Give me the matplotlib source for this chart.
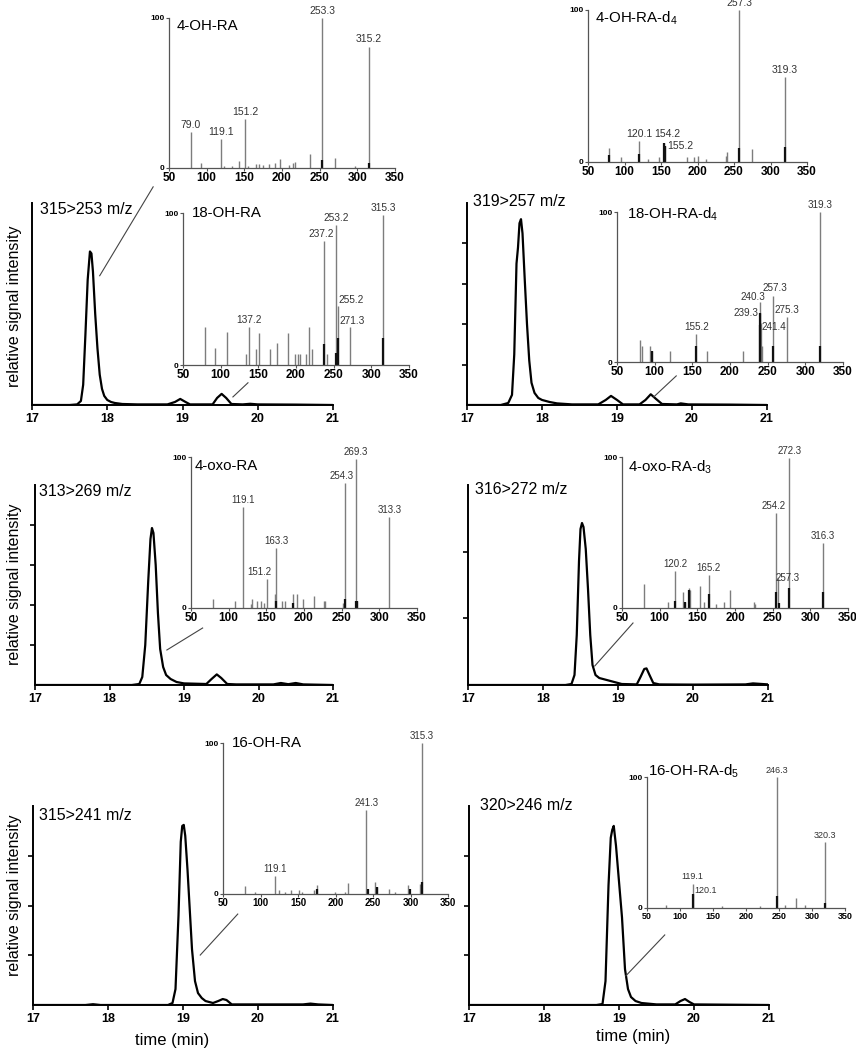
import matplotlib
matplotlib.use('Agg')
import matplotlib.pyplot as plt

plt.rcParams['font.family'] = ['Liberation Sans', 'DejaVu Sans']
plt.rcParams['mathtext.fontset'] = 'custom'
plt.rcParams['mathtext.rm'] = 'Liberation Sans'

W, H = 856, 1050

# ---- chromatograms: time (min) / intensity (% of axis height) ----
t1 = [17.0, 17.5, 17.6, 17.65, 17.68, 17.71, 17.74, 17.77, 17.79, 17.81, 17.84, 17.87, 17.9, 17.93,
      17.96, 18.0, 18.05, 18.1, 18.2, 18.4, 18.8, 18.9, 18.97, 19.04, 19.1, 19.4, 19.46, 19.52, 19.58,
      19.65, 19.8, 19.9, 20.0, 20.5, 21.0]
i1 = [0, 0, 0.3, 2, 10, 35, 62, 76, 75, 66, 45, 28, 15, 8, 4.5, 2.5, 1.5, 1.0, 0.5, 0.3, 0.3, 1.5, 3.0,
      1.5, 0.3, 0.3, 3.5, 5.5, 3.5, 0.5, 0.3, 0.6, 0.3, 0.2, 0]

t2 = [17.0, 17.45, 17.55, 17.6, 17.63, 17.66, 17.68, 17.7, 17.72, 17.74, 17.77, 17.8, 17.83, 17.86,
      17.9, 17.95, 18.0, 18.1, 18.2, 18.4, 18.75, 18.85, 18.92, 19.0, 19.08, 19.3, 19.38, 19.45, 19.52,
      19.6, 19.8, 19.85, 19.95, 20.5, 21.0]
i2 = [0, 0, 1, 5, 25, 70, 78, 90, 92, 85, 62, 40, 22, 11, 6, 3.5, 2.5, 1.5, 0.8, 0.3, 0.3, 2.5, 4.5,
      2.5, 0.3, 0.3, 2.5, 5.3, 3, 0.5, 0.3, 0.8, 0.3, 0.2, 0]

t3 = [17.0, 18.3, 18.4, 18.44, 18.48, 18.52, 18.55, 18.57, 18.59, 18.62, 18.65, 18.68, 18.72, 18.76,
      18.82, 18.9, 19.0, 19.3, 19.37, 19.44, 19.5, 19.58, 19.7, 20.2, 20.3, 20.4, 20.5, 20.6, 21.0]
i3 = [0, 0, 0.5, 4, 20, 52, 73, 78.5, 76, 60, 36, 18, 9, 5, 3, 1.5, 0.8, 0.5, 3, 5.3, 3.5, 0.5, 0.3,
      0.3, 1.0, 0.4, 1.0, 0.3, 0]

t4 = [17.0, 18.3, 18.38, 18.42, 18.45, 18.48, 18.5, 18.52, 18.54, 18.57, 18.6, 18.63, 18.66, 18.7,
      18.75, 18.85, 18.95, 19.05, 19.25, 19.3, 19.35, 19.38, 19.42, 19.47, 19.55, 20.0, 20.7, 20.8, 21.0]
i4 = [0, 0, 0.5, 5, 25, 62, 78, 81, 79, 68, 48, 25, 10, 5, 3.5, 2.5, 1.5, 0.5, 0.3, 4, 8, 8.3, 5, 1,
      0.3, 0.2, 0.3, 0.8, 0.3]

t5 = [17.0, 17.7, 17.8, 17.9, 18.8, 18.86, 18.9, 18.94, 18.97, 18.99, 19.01, 19.03, 19.06, 19.09,
      19.12, 19.16, 19.2, 19.25, 19.3, 19.4, 19.47, 19.53, 19.58, 19.65, 20.0, 20.6, 20.7, 20.8, 21.0]
i5 = [0, 0, 0.4, 0, 0, 1, 8, 45, 82, 90, 90.5, 85, 68, 48, 28, 12, 6, 3.5, 2, 1, 2, 3, 2.5, 0.3, 0.3,
      0.3, 0.7, 0.3, 0]

t6 = [17.0, 18.7, 18.78, 18.82, 18.86, 18.89, 18.91, 18.93, 18.96, 19.0, 19.04, 19.08, 19.12, 19.16,
      19.22, 19.3, 19.5, 19.75, 19.82, 19.88, 19.94, 20.0, 21.0]
i6 = [0, 0, 0.5, 12, 60, 84, 88, 90, 80, 62, 44, 18, 8, 4, 2, 1, 0.3, 0.3, 2, 3, 1.5, 0.3, 0]

# ---- MS2 spectra: m/z / relative abundance (%) ----
mz_a = [79.0, 93, 119.1, 123, 133, 143, 151.2, 155, 165, 169, 175, 183, 191, 197, 209, 215, 217, 237,
        253.3, 271, 297, 315.2]
in_a = [24, 3.6, 19.6, 1.3, 1.5, 4.7, 32.6, 1.3, 2.7, 2.7, 1.8, 2.7, 3.6, 5.8, 1.8, 3.3, 3.8, 9.2,
        100, 7, 1.5, 81]
dmz_a = [253.3, 315.2]
din_a = [5.6, 3.6]

mz_b = [79, 95, 120.1, 132, 147, 154.2, 155.2, 185, 195, 201, 211, 239, 241, 257.3, 275, 319.3]
in_b = [9.5, 3.3, 13.6, 2, 3.3, 12.5, 10.5, 3.3, 3.3, 3.7, 2.2, 3.7, 6.6, 100, 8.4, 55.6]
dmz_b = [79, 120.1, 154.2, 155.2, 257.3, 319.3]
din_b = [4.4, 5, 12.5, 10.5, 9.5, 10]

mz_c = [79, 93, 109, 133, 137.2, 147, 151, 165, 175, 189, 199, 203, 205, 213, 217, 221, 237.2, 241,
        253.2, 255.2, 271.3, 315.3]
in_c = [25, 11, 21.5, 7.3, 24.8, 10.8, 21.3, 10.5, 14.3, 21.3, 7.3, 7.3, 7.3, 7.3, 24.8, 10.5, 81.8,
        7.3, 92, 39, 24.8, 99]
dmz_c = [237.2, 253.2, 255.2, 315.3]
din_c = [14, 7.7, 17.6, 18]

mz_d = [80, 83, 94, 96, 121, 155.2, 169, 217, 239.3, 240.3, 241.4, 243, 257.3, 275.3, 319.3]
in_d = [14.6, 11, 11, 7.4, 7.4, 18.4, 7.4, 7.4, 33, 39.8, 25.8, 11, 43.8, 29.7, 100]
dmz_d = [96, 155.2, 239.3, 240.3, 257.3, 319.3]
din_d = [7.4, 11, 33, 25, 11, 11]

mz_e = [79, 109, 119.1, 129, 131, 137, 143, 147, 151.2, 161, 163.3, 171, 175, 185, 191, 199, 213, 226,
        228, 252, 254.3, 269.3, 271, 313.3]
in_e = [6.2, 4.4, 67, 2.9, 6, 4.4, 4.4, 3.3, 19.3, 9.2, 39.5, 4.4, 4.4, 9.2, 9.2, 6.2, 7.7, 4.8, 4.8,
        3.3, 83, 99, 4.8, 60.4]
dmz_e = [163.3, 185, 254.3, 269.3, 271]
din_e = [4.8, 3, 6, 4.8, 4.8]

mz_f = [79, 111, 120.2, 131, 133, 139, 140, 153, 159, 165.2, 175, 185, 193, 225, 227, 254.2, 257.3,
        272.3, 316.3]
in_f = [15.8, 3.7, 24.6, 10.5, 4, 13.2, 12, 14.3, 4, 22, 2.9, 4, 11.6, 4, 2.9, 62.6, 19.8, 99.6, 43.3]
dmz_f = [120.2, 133, 139, 165.2, 254.2, 258, 272.3, 316.3]
din_f = [4.4, 4, 12, 9.5, 10.5, 3.3, 13, 10.5]

mz_g = [79, 93, 119.1, 125, 133, 141, 151, 155, 171, 175, 199, 213, 217, 241.3, 253, 255, 271, 279,
        297, 313, 315.3]
in_g = [5, 1.3, 12.1, 2.4, 1.5, 2.4, 2.4, 1.1, 2.4, 6, 1.5, 1.1, 7.5, 55.8, 8.2, 4.6, 3, 1.5, 6.2,
        6.6, 100]
dmz_g = [175, 243, 255, 299, 315.3]
din_g = [3, 3, 4.6, 3, 8]

mz_h = [79, 119.1, 120.1, 163, 221, 246.3, 259, 275, 289, 320.3]
in_h = [2, 18.2, 10.6, 1.3, 1.3, 100, 2.5, 7.6, 2.3, 50.6]
dmz_h = [120.1, 246.3, 320.3]
din_h = [10.6, 8.9, 3.8]

fig = plt.figure(figsize=(W / 100, H / 100), dpi=100)


def box(x0, y0, x1, y1):
    # pixel box (top-left origin) -> figure fraction
    return [x0 / W, 1 - y1 / H, (x1 - x0) / W, (y1 - y0) / H]


def chrom(rect, t, inten, label, lab_off, yticks, callout):
    ax = fig.add_axes(box(*rect))
    ax.patch.set_alpha(0)
    ax.plot(t, inten, color='black', lw=1.6, solid_joinstyle='round')
    ax.set_xlim(17, 21)
    ax.set_ylim(0, 100)
    for s in ['top', 'right']:
        ax.spines[s].set_visible(False)
    for s in ['left', 'bottom']:
        ax.spines[s].set_linewidth(1.4)
    ax.set_xticks([17, 18, 19, 20, 21])
    ax.set_xticklabels(['17', '18', '19', '20', '21'], fontsize=9, fontweight='bold')
    ax.set_yticks(yticks)
    ax.set_yticklabels([])
    ax.tick_params(length=3.5, width=1.2, pad=2)
    ax.annotate(label, xy=(0, 1), xycoords='axes fraction', xytext=lab_off,
                textcoords='offset pixels', ha='left', va='center', fontsize=11.5)
    # thin callout line from the peak to its spectrum
    for (x0, y0), (x1, y1) in callout:
        ax.plot([x0, x1], [y0, y1], color='#444', lw=0.8, clip_on=False)
    return ax


def spectrum(rect, mz, inten, dmz, din, title, title_off, labels, tick_fs, lab_fs):
    ax = fig.add_axes(box(*rect))
    ax.patch.set_alpha(0)
    ax.vlines(mz, 0, inten, color='#7d7d7d', lw=1.0)
    ax.vlines(dmz, 0, din, color='#111111', lw=1.6)
    ax.set_xlim(50, 350)
    ax.set_ylim(0, 100)
    for s in ['top', 'right']:
        ax.spines[s].set_visible(False)
    for s in ['left', 'bottom']:
        ax.spines[s].set_color('#555')
        ax.spines[s].set_linewidth(0.9)
    ax.set_xticks(range(50, 351, 50))
    ax.set_xticklabels([str(v) for v in range(50, 351, 50)], fontsize=tick_fs, fontweight='bold')
    ax.set_yticks([0, 100])
    ax.set_yticklabels(['0', '100'], fontsize=6, fontweight='bold')
    ax.tick_params(length=2, width=0.8, pad=1, color='#555')
    ax.annotate(title, xy=(0, 1), xycoords='axes fraction', xytext=title_off,
                textcoords='offset pixels', ha='left', va='center', fontsize=10.8)
    # peak labels sit on the bar with the same m/z
    for txt, ha, va, dx, dy in labels:
        v = float(txt)
        y = inten[mz.index(v)]
        ax.annotate(txt, xy=(v, y), xytext=(dx, dy), textcoords='offset pixels',
                    ha=ha, va=va, fontsize=lab_fs, color='#333', annotation_clip=False)
    return ax


# chromatogram panels
chrom((32, 203, 333, 405), t1, i1, '315>253 m/z', (8, -7), [],
      [((17.90, 64), (18.61, 108)), ((19.67, 4), (19.87, 11))])
chrom((467, 203, 767, 405), t2, i2, '319>257 m/z', (6, 1), [20, 40, 60, 80],
      [((19.49, 4), (19.79, 14.4))])
chrom((35, 485, 333, 685), t3, i3, '313>269 m/z', (4, -6), [20, 40, 60, 80],
      [((18.77, 17.5), (19.25, 28.5))])
chrom((468, 485, 768, 685), t4, i4, '316>272 m/z', (7, -5), [100 / 3, 200 / 3],
      [((18.69, 9.5), (19.2, 31))])
chrom((33, 806, 333, 1005), t5, i5, '315>241 m/z', (6, -9), [25, 50, 75],
      [((19.23, 25.1), (19.73, 45.7))])
chrom((469, 806, 769, 1005), t6, i6, '320>246 m/z', (11, 1), [25, 50, 75],
      [((19.09, 14.6), (19.61, 35.2))])

ab = ('center', 'bottom', 0, 2)

# spectra insets
spectrum((169, 18, 395, 168), mz_a, in_a, dmz_a, din_a, '4-OH-RA', (8, -8),
         [('79.0',) + ab, ('119.1',) + ab, ('151.2',) + ab, ('253.3',) + ab, ('315.2',) + ab], 8.5, 7.5)
spectrum((588, 10, 807, 162), mz_b, in_b, dmz_b, din_b, r'4-OH-RA-d$_\mathregular{4}$', (7, -8),
         [('120.1',) + ab, ('154.2', 'center', 'bottom', 3, 4), ('155.2', 'left', 'center', 2, 0),
          ('257.3',) + ab, ('319.3',) + ab], 8.5, 7.5)
spectrum((183, 213, 409, 365), mz_c, in_c, dmz_c, din_c, '18-OH-RA', (9, 0),
         [('137.2',) + ab, ('237.2', 'center', 'bottom', -3, 2), ('253.2',) + ab,
          ('255.2', 'left', 'bottom', 1, 1), ('271.3', 'center', 'bottom', 2, 1), ('315.3',) + ab],
         8.5, 7.3)
spectrum((617, 212, 843, 362), mz_d, in_d, dmz_d, din_d, r'18-OH-RA-d$_\mathregular{4}$', (10, -2),
         [('155.2',) + ab, ('239.3', 'right', 'center', -1, 0), ('240.3', 'center', 'bottom', -7, 0),
          ('241.4', 'left', 'center', 0, -4), ('257.3', 'center', 'bottom', 2, 3), ('275.3',) + ab,
          ('319.3',) + ab], 8.5, 7.1)
spectrum((191, 457, 417, 608), mz_e, in_e, dmz_e, din_e, '4-oxo-RA', (4, -9),
         [('119.1',) + ab, ('151.2', 'center', 'bottom', -8, 2), ('163.3',) + ab,
          ('254.3', 'center', 'bottom', -3, 2), ('269.3',) + ab, ('313.3',) + ab], 8.5, 7)
spectrum((622, 457, 848, 608), mz_f, in_f, dmz_f, din_f, r'4-oxo-RA-d$_\mathregular{3}$', (6, -10),
         [('120.2',) + ab, ('165.2',) + ab, ('254.2', 'center', 'bottom', -2, 2),
          ('257.3', 'left', 'center', -3, 0), ('272.3',) + ab, ('316.3',) + ab], 8.5, 7)
spectrum((223, 743, 448, 894), mz_g, in_g, dmz_g, din_g, '16-OH-RA', (9, 0),
         [('119.1',) + ab, ('241.3',) + ab, ('315.3',) + ab], 7, 7)
spectrum((647, 777, 845, 908), mz_h, in_h, dmz_h, din_h, r'16-OH-RA-d$_\mathregular{5}$', (1, 6),
         [('119.1', 'center', 'bottom', 0, 3), ('120.1', 'left', 'center', 1, 4), ('246.3',) + ab,
          ('320.3',) + ab], 6.5, 6.5)

# axis titles
for yc in [306, 584, 895]:
    fig.text(15 / W, 1 - yc / H, 'relative signal intensity', rotation=90, ha='center', va='center',
             fontsize=11.5)
fig.text(172 / W, 1 - 1041 / H, 'time (min)', ha='center', va='center', fontsize=12)
fig.text(633 / W, 1 - 1037 / H, 'time (min)', ha='center', va='center', fontsize=12)

fig.savefig('out.png', dpi=100)
